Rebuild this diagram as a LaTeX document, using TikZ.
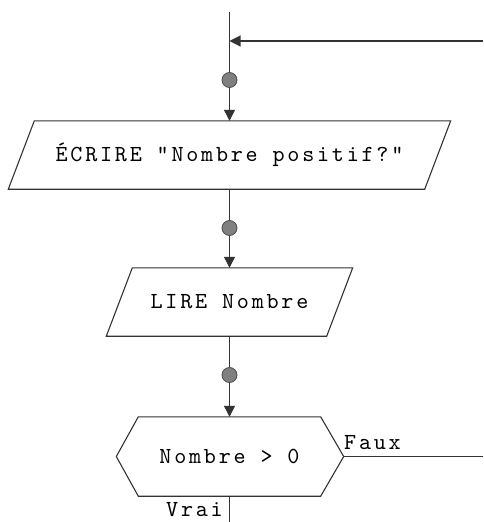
\documentclass[tikz,border=0pt]{standalone}
\usepackage{fontspec}
\usetikzlibrary{arrows.meta,calc}
\newfontfamily\flowfamily{lmmono10-regular.otf}[LetterSpace=12]
\newcommand{\flowfont}{\flowfamily\fontsize{23}{28}\selectfont}
\begin{document}
\begin{tikzpicture}[x=1pt,y=-1pt,
    flow/.style={black!80,line width=1.1pt},
    arr/.style={flow,-{Triangle[length=11pt,width=11pt]}},
    joint/.style={circle,fill=gray,draw=black!70,line width=0.8pt,minimum size=15pt,inner sep=0pt},
    box/.style={inner sep=0pt,minimum height=68pt,font=\flowfont},
    lbl/.style={inner sep=0pt,font=\flowfont}]
    \useasboundingbox (0,0) rectangle (483,522);
    \coordinate (top) at (229.5,12);
    \coordinate (join) at (229.5,41);
    \coordinate (back) at (483,41);
    \node[joint] (d1) at (229.5,80) {};
    \node[box,minimum width=416pt] (ecrire) at (229.5,155) {ÉCRIRE "Nombre positif?"};
    \node[joint] (d2) at (229.5,228) {};
    \node[box,minimum width=220pt] (lire) at (229.5,302) {LIRE Nombre};
    \node[joint] (d3) at (229.5,375) {};
    \node[box,minimum width=182pt,minimum height=79pt] (test) at (229.5,456.5) {Nombre > 0};
    \coordinate (testR) at ($(test.east)+(23,0)$);
    \coordinate (testL) at ($(test.west)+(-22,0)$);
    \coordinate (faux) at (483,456.5);
    \coordinate (bottom) at (229.5,522);
    \foreach \n in {ecrire,lire}
        \draw[flow] ($(\n.north west)+(13,0)$) -- ($(\n.north east)+(13,0)$)
            -- ($(\n.south east)+(-13,0)$) -- ($(\n.south west)+(-13,0)$) -- cycle;
    \draw[flow] (test.north west) -- (test.north east) -- (testR) -- (test.south east)
        -- (test.south west) -- (testL) -- cycle;
    \draw[flow] (top) -- (d1);
    \draw[arr] (back) -- (join);
    \draw[arr] (d1) -- (ecrire);
    \draw[flow] (ecrire) -- (d2);
    \draw[arr] (d2) -- (lire);
    \draw[flow] (lire) -- (d3);
    \draw[arr] (d3) -- (test);
    \draw[flow] (testR) -- (faux);
    \draw[flow] (test) -- (bottom);
    \node[lbl,anchor=west] (fauxlbl) at (344,443) {Faux};
    \node[lbl,anchor=east] (vrailbl) at (223,510) {Vrai};
\end{tikzpicture}
\end{document}
